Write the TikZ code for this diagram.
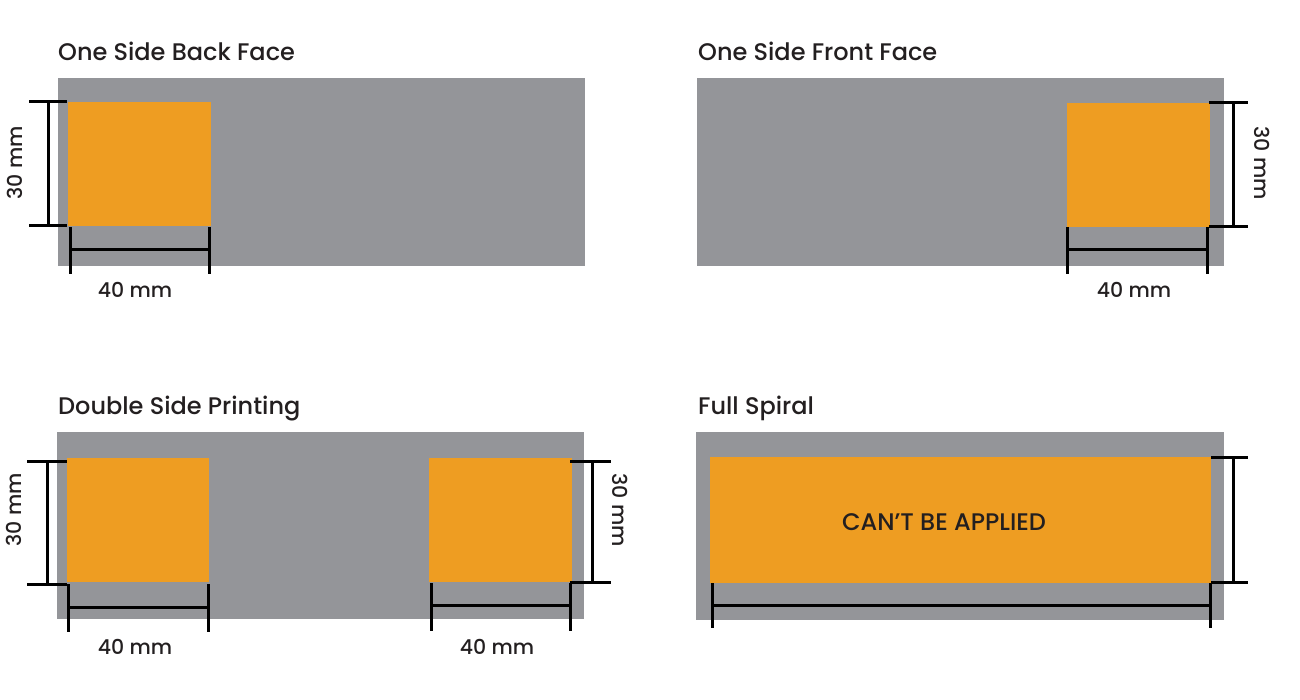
\documentclass[tikz,border=0pt]{standalone}
\usepackage{fontspec}
\setmainfont{Poppins Medium}
\definecolor{cardgray}{HTML}{949599}
\definecolor{patch}{HTML}{EE9D22}
\definecolor{ink}{HTML}{231F20}
\begin{document}
\begin{tikzpicture}[x=1pt,y=-1pt,
  card/.style={fill=cardgray,draw=none,inner sep=0pt,outer sep=0pt,anchor=north west},
  area/.style={fill=patch,draw=none,inner sep=0pt,outer sep=0pt,anchor=north west},
  dim/.style={line width=3pt,draw=black},
  title/.style={anchor=base west,inner sep=0pt,text=ink,font=\fontsize{24}{27}\selectfont},
  lab/.style={inner sep=0pt,text=ink,font=\fontsize{20.5}{23}\selectfont}]
\useasboundingbox (0,0) rectangle (1300,700);

% ---------- One Side Back Face
\node[title] (t1) at (58,61) {One Side Back Face};
\node[card,minimum width=527pt,minimum height=188pt] (g1) at (58,78) {};
\node[area,minimum width=143pt,minimum height=124pt] (o1) at (68,102) {};
\draw[dim] (29,102) -- (67,102);
\draw[dim] (29,226) -- (67,226);
\draw[dim] (48,102) -- (48,226);
\draw[dim] (70,227) -- (70,274);
\draw[dim] (209,227) -- (209,274);
\draw[dim] (70,250) -- (209,250);
\node[lab] (l1a) at (135,290) {40 mm};
\node[lab,rotate=90] (l1b) at (15,163) {30 mm};

% ---------- One Side Front Face
\node[title] (t2) at (698,61) {One Side Front Face};
\node[card,minimum width=527pt,minimum height=188pt] (g2) at (697,78) {};
\node[area,minimum width=143pt,minimum height=124pt] (o2) at (1067,103) {};
\draw[dim] (1209,103) -- (1248,103);
\draw[dim] (1209,227) -- (1248,227);
\draw[dim] (1233,103) -- (1233,227);
\draw[dim] (1067,227) -- (1067,274);
\draw[dim] (1207,227) -- (1207,274);
\draw[dim] (1067,250) -- (1207,250);
\node[lab] (l2a) at (1134,290) {40 mm};
\node[lab,rotate=-90] (l2b) at (1262,163) {30 mm};

% ---------- Double Side Printing
\node[title] (t3) at (58,414) {Double Side Printing};
\node[card,minimum width=527pt,minimum height=187pt] (g3) at (57,432) {};
\node[area,minimum width=142pt,minimum height=124pt] (o3) at (67,458) {};
\node[area,minimum width=143pt,minimum height=124pt] (o4) at (429,458) {};
\draw[dim] (27,461) -- (67,461);
\draw[dim] (27,584) -- (67,584);
\draw[dim] (47,461) -- (47,584);
\draw[dim] (68,584) -- (68,632);
\draw[dim] (208,584) -- (208,632);
\draw[dim] (68,607) -- (208,607);
\node[lab] (l3a) at (135,647) {40 mm};
\node[lab,rotate=90] (l3b) at (14,510) {30 mm};
\draw[dim] (570,461) -- (611,461);
\draw[dim] (570,582) -- (611,582);
\draw[dim] (592,461) -- (592,582);
\draw[dim] (431,583) -- (431,631);
\draw[dim] (570,583) -- (570,631);
\draw[dim] (431,605) -- (570,605);
\node[lab] (l4a) at (497,647) {40 mm};
\node[lab,rotate=-90] (l4b) at (620,510) {30 mm};

% ---------- Full Spiral
\node[title] (t4) at (698,414) {Full Spiral};
\node[card,minimum width=528pt,minimum height=188pt] (g4) at (696,432) {};
\node[area,minimum width=501pt,minimum height=126pt] (o5) at (710,457) {};
\node[lab,font=\fontsize{24}{27}\selectfont] (l5) at (944,522) {CAN’T BE APPLIED};
\draw[dim] (1211,457) -- (1248,457);
\draw[dim] (1211,582) -- (1248,582);
\draw[dim] (1233,457) -- (1233,582);
\draw[dim] (712,583) -- (712,628);
\draw[dim] (1210,583) -- (1210,628);
\draw[dim] (712,605) -- (1210,605);
\end{tikzpicture}
\end{document}
